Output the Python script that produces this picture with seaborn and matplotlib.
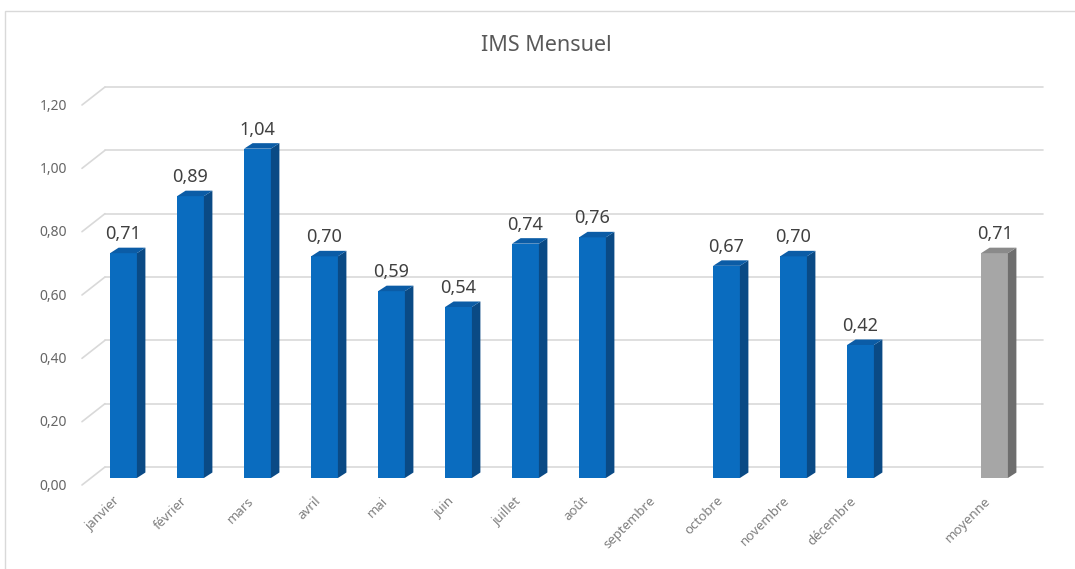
import matplotlib
matplotlib.use("Agg")
import matplotlib.pyplot as plt
from matplotlib.patches import Polygon, Rectangle
from matplotlib.lines import Line2D
import matplotlib.transforms as mtransforms
import seaborn as sns
import pandas as pd

# ---------------- data ----------------
months = ["janvier", "février", "mars", "avril", "mai", "juin", "juillet",
          "août", "septembre", "octobre", "novembre", "décembre"]
month_values = [0.71, 0.89, 1.04, 0.70, 0.59, 0.54, 0.74, 0.76, None,
                0.67, 0.70, 0.42]
gap_category = " "
avg_label = "moyenne"
avg_value = 0.71
y_ticks = [0.0, 0.2, 0.4, 0.6, 0.8, 1.0, 1.2]
y_tick_labels = ["0,00", "0,20", "0,40", "0,60", "0,80", "1,00", "1,20"]
title = "IMS Mensuel"

# ---------------- style ----------------
BLUE = {"front": "#0a6cbf", "side": "#0a4a85", "top": "#0b5ca6"}
GREY = {"front": "#a6a6a6", "side": "#6e6e6e", "top": "#8a8a8a"}
GRID = "#d9d9d9"

sns.set_style("white")
plt.rcParams["font.family"] = ["Noto Sans", "DejaVu Sans"]

order = months + [gap_category, avg_label]
rows = [(m, v) for m, v in zip(months, month_values) if v is not None]
rows.append((avg_label, avg_value))
df = pd.DataFrame(rows, columns=["mois", "ims"])
palette = {m: BLUE["front"] for m in months}
palette[avg_label] = GREY["front"]

W, H, DPI = 1075, 569, 100
fig = plt.figure(figsize=(W / DPI, H / DPI), dpi=DPI)
ax = fig.add_axes([90 / W, (H - 478) / H, 938 / W, 380 / H])
ax.patch.set_visible(False)

sns.barplot(data=df, x="mois", y="ims", hue="mois", order=order,
            palette=palette, width=0.4, errorbar=None, legend=False,
            saturation=1, ax=ax, zorder=3, linewidth=0)

ax.set_xlim(-0.5, len(order) - 0.5)
ax.set_ylim(0, 1.2)
ax.set_xlabel("")
ax.set_ylabel("")
for s in ax.spines.values():
    s.set_visible(False)
ax.set_yticks([])
ax.grid(False)

ax.set_xticks(range(len(order)))
ax.set_xticklabels([o.strip() for o in order])
ax.tick_params(axis="x", length=0, pad=15, labelsize=9.5, labelcolor="#7f7f7f")
shift = mtransforms.ScaledTranslation(-6 / DPI, 0, fig.dpi_scale_trans)
for lab in ax.get_xticklabels():
    lab.set_rotation(45)
    lab.set_ha("right")
    lab.set_va("center")
    lab.set_rotation_mode("anchor")
    lab.set_transform(lab.get_transform() + shift)

# pixel geometry of the 3D look
fig.canvas.draw()
t = ax.transData
px_x = t.transform((1, 0))[0] - t.transform((0, 0))[0]
px_y = t.transform((0, 1))[1] - t.transform((0, 0))[1]
dx = 8.5 / px_x
dy = 5.5 / px_y

# back-wall gridlines + floor diagonals + y labels
ytr = ax.get_yaxis_transform()
ident = mtransforms.IdentityTransform()
for v, lab in zip(y_ticks, y_tick_labels):
    x0, y0 = ytr.transform((0, v))
    x1, _ = ytr.transform((1, v))
    ax.add_line(Line2D([x0 + 15, x1 + 15], [y0 + 11, y0 + 11],
                       transform=ident, color=GRID, lw=1.2, zorder=0,
                       clip_on=False))
    ax.add_line(Line2D([x0 - 8, x0 + 15], [y0 - 7, y0 + 11],
                       transform=ident, color=GRID, lw=1.2, zorder=0,
                       clip_on=False))
    ax.annotate(lab, xy=(0, v), xycoords=ytr, xytext=(-23, -8),
                textcoords="offset pixels", ha="right", va="center",
                fontsize=10, color="#666666", annotation_clip=False)

# side / top faces and value labels
for p in list(ax.patches):
    h = p.get_height()
    if not h or h != h:
        continue
    x0 = p.get_x()
    x1 = x0 + p.get_width()
    idx = int(round(x0 + p.get_width() / 2))
    shades = GREY if order[idx] == avg_label else BLUE
    side = Polygon([(x1, 0), (x1, h), (x1 + dx, h + dy), (x1 + dx, dy)],
                   closed=True, facecolor=shades["side"], edgecolor="none",
                   zorder=3)
    top = Polygon([(x0, h), (x1, h), (x1 + dx, h + dy), (x0 + dx, h + dy)],
                  closed=True, facecolor=shades["top"], edgecolor="none",
                  zorder=3)
    ax.add_patch(side)
    ax.add_patch(top)
    ax.annotate(f"{h:.2f}".replace(".", ","), xy=((x0 + x1) / 2, h),
                xytext=(0, 14), textcoords="offset pixels", ha="center",
                va="baseline", fontsize=13, color="#404040",
                annotation_clip=False)

# chart frame and title
fig.add_artist(Rectangle((5 / W, -0.1), 2, (H - 11) / H + 0.1,
                         transform=fig.transFigure, fill=False,
                         edgecolor=GRID, lw=1))
fig.text(546 / W, (H - 51) / H, title, ha="center", va="baseline",
         fontsize=15.5, color="#595959")

fig.savefig("out.png", dpi=DPI, facecolor="white")
